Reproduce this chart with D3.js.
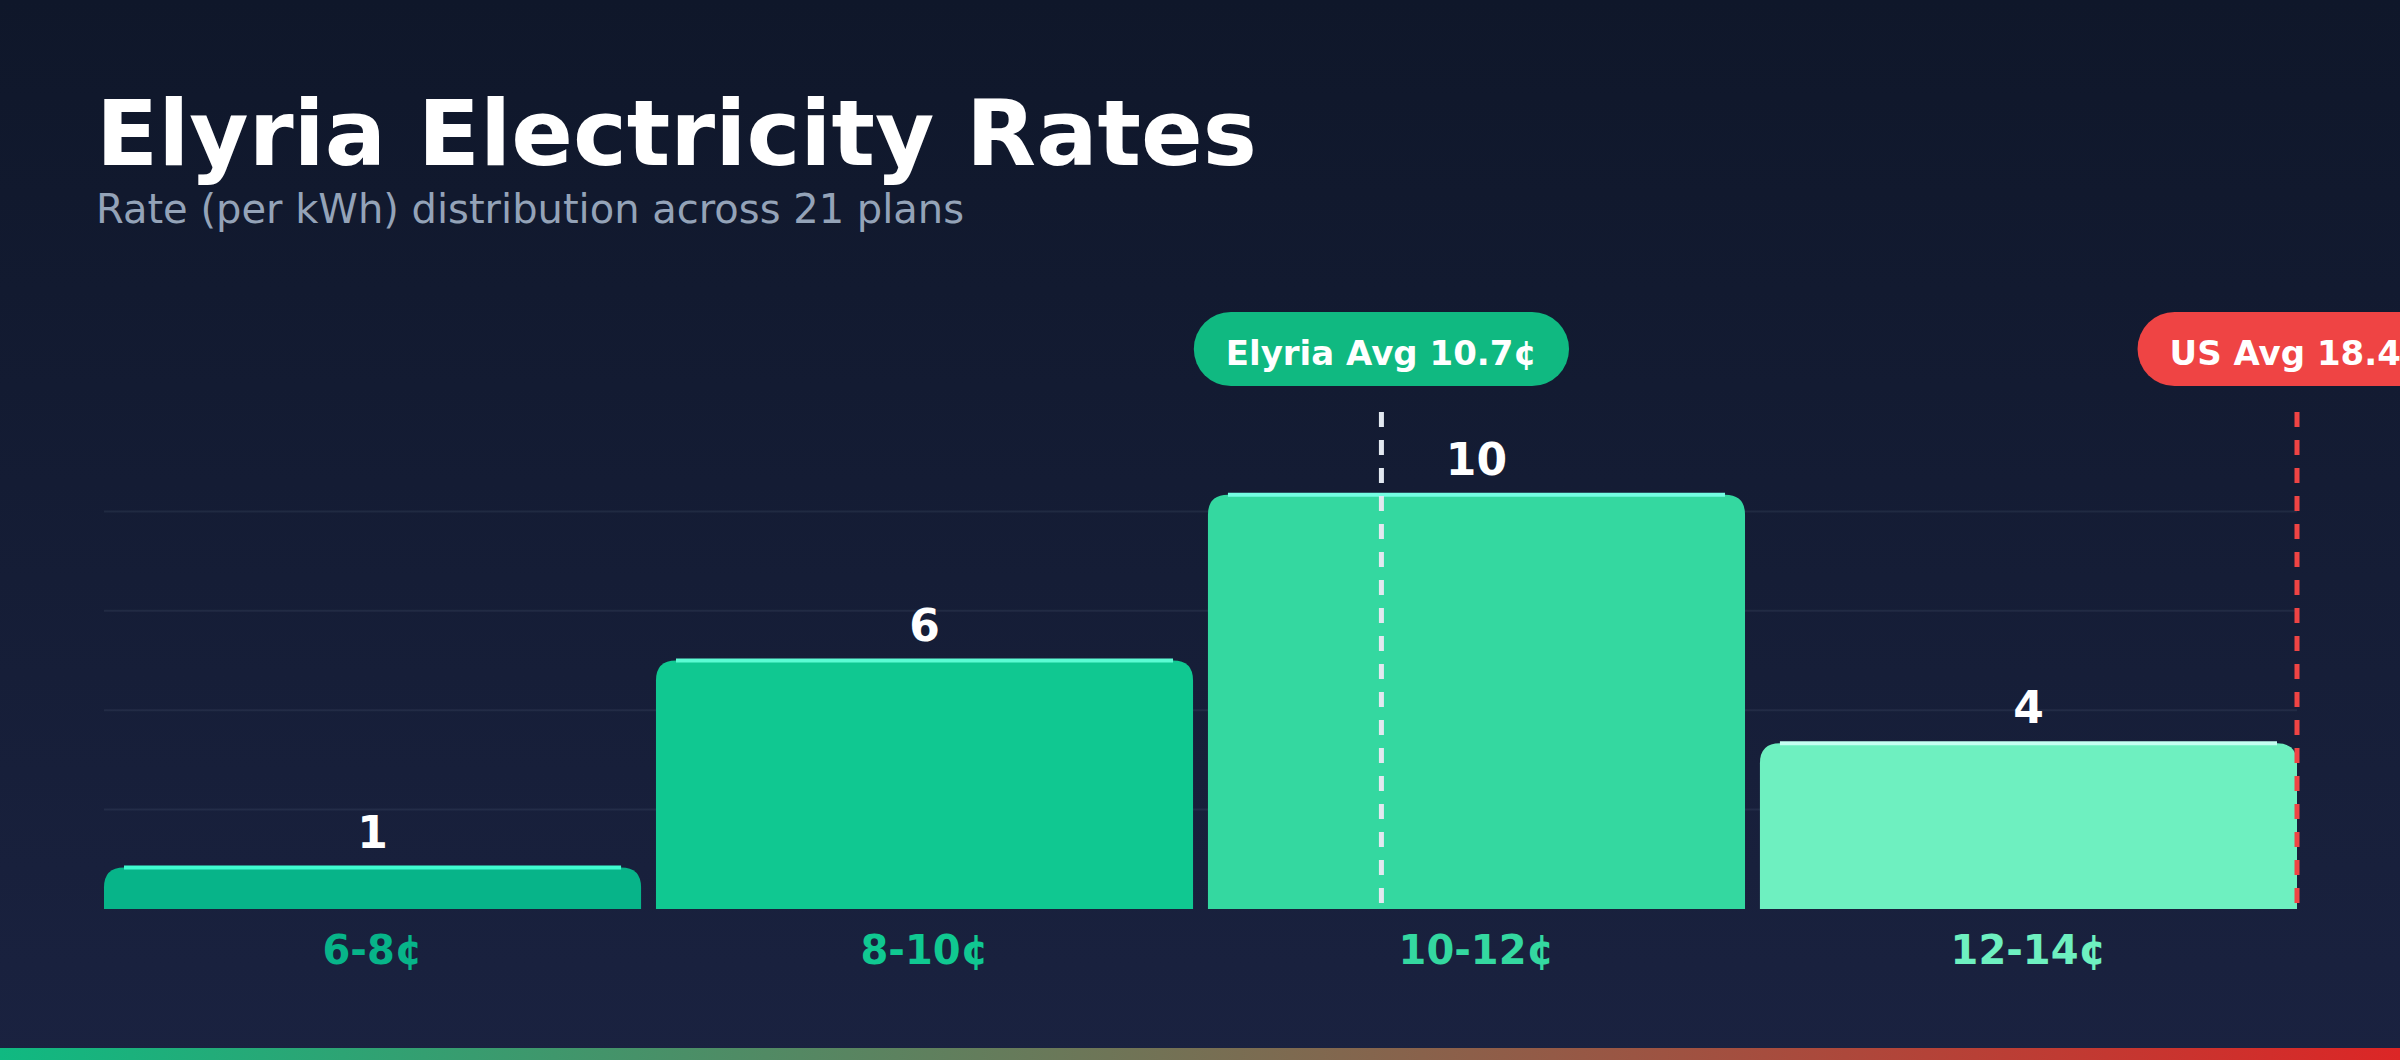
<!DOCTYPE html>
<html>
<head>
<meta charset="utf-8">
<script src="https://cdn.jsdelivr.net/npm/d3@7"></script>
<style>
  html, body { margin: 0; padding: 0; background: #0f172a; }
  svg { display: block; font-family: "DejaVu Sans", sans-serif; }
</style>
</head>
<body>
<div id="chart"></div>
<script>
// data
const rateBins = ['6-8¢', '8-10¢', '10-12¢', '12-14¢'];
const planCounts = [1, 6, 10, 4];
const rateDomain = [6, 14];
const elyriaAvg = 10.66;
const usAvg = 18.4;

const W = 2400, H = 1060;
const plot = { left: 104, right: 2297, top: 412, bottom: 909 };

const barColors = ['#07b489', '#10c891', '#34d8a0', '#6ef0c0'];
const glowColors = ['#3ffcd0', '#5cfbd3', '#74fde2', '#c4fff1'];

const svg = d3.select('#chart').append('svg')
  .attr('width', W)
  .attr('height', H)
  .attr('viewBox', `0 0 ${W} ${H}`);

const defs = svg.append('defs');
const bg = defs.append('linearGradient').attr('id', 'bg')
  .attr('x1', 0).attr('y1', 0).attr('x2', 0).attr('y2', 1);
bg.append('stop').attr('offset', '0%').attr('stop-color', '#0f172a');
bg.append('stop').attr('offset', '100%').attr('stop-color', '#1a2240');

const strip = defs.append('linearGradient').attr('id', 'strip')
  .attr('x1', 0).attr('y1', 0).attr('x2', 1).attr('y2', 0);
strip.append('stop').attr('offset', '0%').attr('stop-color', '#10b981');
strip.append('stop').attr('offset', '100%').attr('stop-color', '#dc2626');

svg.append('rect').attr('width', W).attr('height', H).attr('fill', 'url(#bg)');
svg.append('rect').attr('y', H - 12).attr('width', W).attr('height', 12).attr('fill', 'url(#strip)');

// titles
svg.append('text')
  .attr('x', 96).attr('y', 165)
  .attr('fill', '#ffffff')
  .attr('font-size', 91)
  .attr('font-weight', 'bold')
  .text('Elyria Electricity Rates');

svg.append('text')
  .attr('x', 96).attr('y', 223)
  .attr('fill', '#94a3b8')
  .attr('font-size', 40)
  .text(`Rate (per kWh) distribution across ${d3.sum(planCounts)} plans`);

// scales
const x = d3.scaleBand()
  .domain(rateBins)
  .range([plot.left, plot.right])
  .paddingInner(0.027)
  .paddingOuter(0);

const yMax = d3.max(planCounts) * 1.2;
const y = d3.scaleLinear()
  .domain([0, yMax])
  .range([plot.bottom, plot.top]);

const xRate = d3.scaleLinear()
  .domain(rateDomain)
  .range([plot.left, plot.right])
  .clamp(true);

// grid
const gridVals = d3.range(1, 5).map(i => yMax * i / 5);
svg.append('g')
  .selectAll('line')
  .data(gridVals)
  .join('line')
  .attr('x1', plot.left).attr('x2', plot.right)
  .attr('y1', d => y(d)).attr('y2', d => y(d))
  .attr('stroke', '#94a3b8')
  .attr('stroke-opacity', 0.1)
  .attr('stroke-width', 2);

function topRounded(x0, y0, w, h, r) {
  r = Math.min(r, h, w / 2);
  return `M${x0},${y0 + h}V${y0 + r}Q${x0},${y0} ${x0 + r},${y0}` +
    `H${x0 + w - r}Q${x0 + w},${y0} ${x0 + w},${y0 + r}V${y0 + h}Z`;
}

const bars = svg.append('g')
  .selectAll('g')
  .data(rateBins.map((bin, i) => ({ bin, count: planCounts[i], i })))
  .join('g');

bars.append('path')
  .attr('d', d => topRounded(x(d.bin), y(d.count), x.bandwidth(), y(0) - y(d.count), 20))
  .attr('fill', d => barColors[d.i]);

bars.append('line')
  .attr('x1', d => x(d.bin) + 20)
  .attr('x2', d => x(d.bin) + x.bandwidth() - 20)
  .attr('y1', d => y(d.count))
  .attr('y2', d => y(d.count))
  .attr('stroke', d => glowColors[d.i])
  .attr('stroke-width', 4);

bars.append('text')
  .attr('x', d => x(d.bin) + x.bandwidth() / 2)
  .attr('y', d => y(d.count) - 20)
  .attr('text-anchor', 'middle')
  .attr('fill', '#ffffff')
  .attr('font-size', 44)
  .attr('font-weight', 'bold')
  .text(d => d.count);

bars.append('text')
  .attr('x', d => x(d.bin) + x.bandwidth() / 2)
  .attr('y', 964)
  .attr('text-anchor', 'middle')
  .attr('fill', d => barColors[d.i])
  .attr('font-size', 40)
  .attr('font-weight', 'bold')
  .text(d => d.bin);

// average markers
const markers = [
  { label: `Elyria Avg ${elyriaAvg.toFixed(1)}¢`, value: elyriaAvg, line: '#e2e8f0', pill: '#10b981' },
  { label: `US Avg ${usAvg.toFixed(1)}¢`, value: usAvg, line: '#ef4444', pill: '#ef4444' }
];

markers.forEach(m => {
  const mx = xRate(m.value);
  svg.append('line')
    .attr('x1', mx).attr('x2', mx)
    .attr('y1', plot.top).attr('y2', plot.bottom)
    .attr('stroke', m.line)
    .attr('stroke-width', 5)
    .attr('stroke-dasharray', '15,13');

  const g = svg.append('g');
  const pill = g.append('rect')
    .attr('y', 312)
    .attr('height', 74)
    .attr('rx', 37)
    .attr('fill', m.pill);
  const t = g.append('text')
    .attr('x', mx).attr('y', 365)
    .attr('text-anchor', 'middle')
    .attr('fill', '#ffffff')
    .attr('font-size', 34)
    .attr('font-weight', 'bold')
    .text(m.label);
  const tw = t.node().getComputedTextLength() + 64;
  pill.attr('x', mx - tw / 2).attr('width', tw);
});
</script>
</body>
</html>
